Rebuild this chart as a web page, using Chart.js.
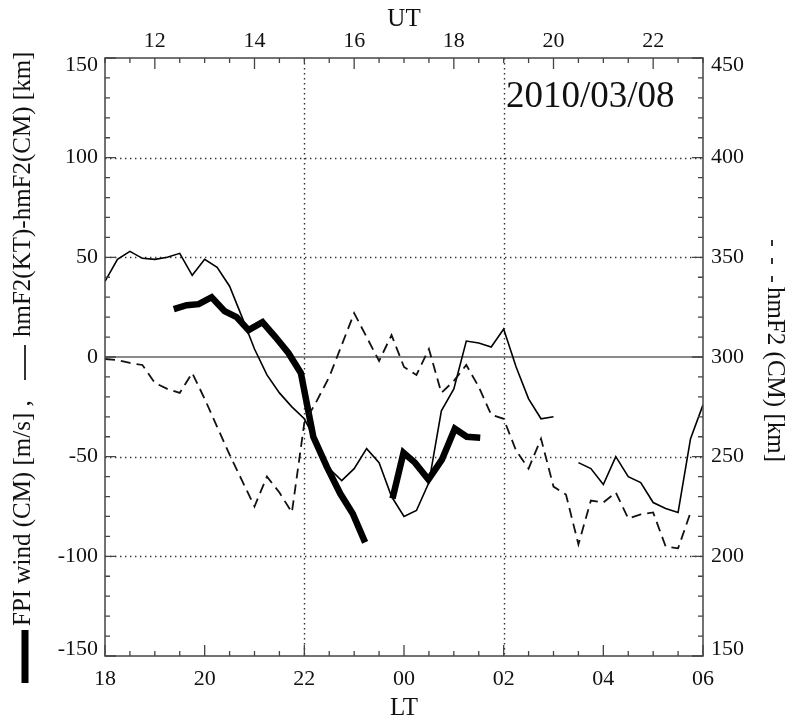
<!DOCTYPE html>
<html>
<head>
<meta charset="utf-8">
<script src="https://cdn.jsdelivr.net/npm/chart.js@4/dist/chart.umd.min.js"></script>
<style>
  html, body { margin: 0; padding: 0; background: #fff; }
  canvas { display: block; }
</style>
</head>
<body>
<canvas id="hmf2Chart" width="789" height="720"></canvas>
<script>
// LT hours (18 = 18 LT, 24 = 00 LT next day, 30 = 06 LT)
const ltQuarter = [18, 18.25, 18.5, 18.75, 19, 19.25, 19.5, 19.75, 20, 20.25, 20.5, 20.75,
  21, 21.25, 21.5, 21.75, 22, 22.25, 22.5, 22.75, 23, 23.25, 23.5, 23.75,
  24, 24.25, 24.5, 24.75, 25, 25.25, 25.5, 25.75, 26, 26.25, 26.5, 26.75,
  27, 27.25, 27.5, 27.75, 28, 28.25, 28.5, 28.75, 29, 29.25, 29.5, 29.75, 30];

// hmF2(KT) - hmF2(CM) [km], thin solid line, left axis
const hmF2Diff = [38, 49, 53, 49.5, 49, 50, 52, 41, 49, 45, 35.5, 20,
  4, -9, -18, -25, -31, -43, -56, -62, -56, -46, -53, -70,
  -80, -77, -63, -27, -16, 8, 7, 5, 14, -5, -21, -31,
  -30, null, -53, -56, -64, -50, -60, -63, -73, -76, -78, -41, -24];

// hmF2 (CM) [km], dashed line, right axis
const hmF2CM = [299, 298.5, 297, 296, 287, 284, 282, 292, 279, 265, 251, 238,
  225, 240, 232, 222, 267, 278, 290, 306, 322, 310, 298, 311,
  295, 291, 304, 282, 288, 296, 285, 271, 269, 253, 244, 259,
  235, 231, 206, 228, 227, 232, 219, 221, 222, 205, 204, 222, null];

// FPI wind (CM) [m/s], thick line, left axis
const fpiLT = [19.38, 19.64, 19.88, 20.14, 20.4, 20.64, 20.88, 21.16, 21.42, 21.68, 21.93,
  22.18, 22.45, 22.72, 22.97, 23.22, 23.5,
  23.77, 23.99, 24.22, 24.49, 24.76, 25.02, 25.26, 25.53];
const fpiWind = [24, 26, 26.5, 30, 23, 20, 13.5, 17.5, 10, 2, -8,
  -40, -55, -68.5, -78.5, -93, null,
  -71, -48, -53, -61.5, -51.5, -36, -40, -40.5];

// axis ticks / labels
const ltTicks = [18, 20, 22, 24, 26, 28, 30];
const utTicks = [12, 14, 16, 18, 20, 22];
const ltGrid = [22, 26];
const windGrid = [-100, -50, 50, 100];
const dateLabel = '2010/03/08';

const SERIF = "'Liberation Serif', 'DejaVu Serif', serif";

function pts(xs, ys) {
  return xs.map((x, i) => ({ x: x, y: ys[i] }));
}

const framePlugin = {
  id: 'frame',
  beforeDraw(chart) {
    const c = chart.ctx;
    c.save();
    c.fillStyle = '#fff';
    c.fillRect(0, 0, chart.width, chart.height);
    c.restore();
  },
  beforeDatasetsDraw(chart) {
    const c = chart.ctx, a = chart.chartArea, s = chart.scales;
    c.save();
    c.strokeStyle = '#333';
    c.lineWidth = 1.4;
    c.setLineDash([1.4, 3.6]);
    ltGrid.forEach(v => {
      const x = Math.round(s.x.getPixelForValue(v)) + 0.5;
      c.beginPath(); c.moveTo(x, a.top); c.lineTo(x, a.bottom); c.stroke();
    });
    windGrid.forEach(v => {
      const y = Math.round(s.y.getPixelForValue(v)) + 0.5;
      c.beginPath(); c.moveTo(a.left, y); c.lineTo(a.right, y); c.stroke();
    });
    c.setLineDash([]);
    c.strokeStyle = '#8a8a8a';
    c.lineWidth = 2;
    const y0 = s.y.getPixelForValue(0);
    c.beginPath(); c.moveTo(a.left, y0); c.lineTo(a.right, y0); c.stroke();
    c.restore();
  },
  afterDraw(chart) {
    const c = chart.ctx, a = chart.chartArea, s = chart.scales;
    c.save();
    c.strokeStyle = '#444';
    c.lineWidth = 1.5;
    c.strokeRect(a.left, a.top, a.right - a.left, a.bottom - a.top);

    // inward tick marks
    c.lineWidth = 1.3;
    c.beginPath();
    for (let i = 0; i <= 24; i++) {
      const v = 18 + i * 0.5, x = s.x.getPixelForValue(v);
      const len = (i % 4 === 0) ? 11 : 5;
      c.moveTo(x, a.bottom); c.lineTo(x, a.bottom - len);
    }
    for (let i = 0; i <= 24; i++) {
      const v = 11 + i * 0.5, x = s.x2.getPixelForValue(v);
      const len = (i % 4 === 2) ? 11 : 5;
      c.moveTo(x, a.top); c.lineTo(x, a.top + len);
    }
    for (let i = 0; i <= 30; i++) {
      const y = s.y.getPixelForValue(-150 + i * 10);
      const len = (i % 5 === 0) ? 11 : 5;
      c.moveTo(a.left, y); c.lineTo(a.left + len, y);
    }
    for (let i = 0; i <= 30; i++) {
      const y = s.y2.getPixelForValue(150 + i * 10);
      const len = (i % 5 === 0) ? 11 : 5;
      c.moveTo(a.right, y); c.lineTo(a.right - len, y);
    }
    c.stroke();

    // titles
    c.fillStyle = '#111';
    c.font = '25px ' + SERIF;
    c.textAlign = 'center';
    c.textBaseline = 'alphabetic';
    const cx = (a.left + a.right) / 2;
    c.fillText('UT', cx, 26);
    c.fillText('LT', cx, 715);

    c.textAlign = 'left';
    c.font = '37px ' + SERIF;
    c.fillText(dateLabel, 506, 107);

    // left title: thick bar + text, thin line + text (reads bottom to top)
    c.save();
    c.translate(25, 683);
    c.rotate(-Math.PI / 2);
    c.fillStyle = '#000';
    c.fillRect(0, -3.5, 53, 7);
    c.fillStyle = '#111';
    c.font = '25px ' + SERIF;
    c.textBaseline = 'middle';
    c.fillText('FPI wind (CM) [m/s] ,', 57, -2);
    c.strokeStyle = '#000';
    c.lineWidth = 1.6;
    c.beginPath(); c.moveTo(303, 0); c.lineTo(338, 0); c.stroke();
    c.fillText('hmF2(KT)-hmF2(CM) [km]', 346, -2);
    c.restore();

    // right title: dashes + text (reads top to bottom)
    c.save();
    c.translate(772, 240);
    c.rotate(Math.PI / 2);
    c.strokeStyle = '#000';
    c.lineWidth = 1.6;
    c.setLineDash([6, 12]);
    c.beginPath(); c.moveTo(0, 0); c.lineTo(42, 0); c.stroke();
    c.setLineDash([]);
    c.fillStyle = '#111';
    c.font = '25px ' + SERIF;
    c.textBaseline = 'middle';
    c.fillText('hmF2 (CM) [km]', 47, -3);
    c.restore();

    c.restore();
  }
};

const tickFont = { family: SERIF, size: 22, lineHeight: 0.64 };

new Chart(document.getElementById('hmf2Chart'), {
  type: 'line',
  data: {
    datasets: [
      {
        label: 'hmF2 (CM)',
        data: pts(ltQuarter, hmF2CM),
        xAxisID: 'x', yAxisID: 'y2',
        borderColor: '#111', borderWidth: 1.8, borderDash: [10, 6],
        pointRadius: 0, tension: 0, spanGaps: false, fill: false
      },
      {
        label: 'hmF2(KT)-hmF2(CM)',
        data: pts(ltQuarter, hmF2Diff),
        xAxisID: 'x', yAxisID: 'y',
        borderColor: '#000', borderWidth: 1.6,
        pointRadius: 0, tension: 0, spanGaps: false, fill: false
      },
      {
        label: 'FPI wind (CM)',
        data: pts(fpiLT, fpiWind),
        xAxisID: 'x', yAxisID: 'y',
        borderColor: '#000', borderWidth: 6.5, borderJoinStyle: 'miter',
        pointRadius: 0, tension: 0, spanGaps: false, fill: false
      }
    ]
  },
  options: {
    responsive: false,
    animation: false,
    events: [],
    layout: { padding: 0 },
    plugins: { legend: { display: false }, tooltip: { enabled: false } },
    scales: {
      x: {
        type: 'linear', position: 'bottom', min: 18, max: 30,
        afterBuildTicks: s => { s.ticks = ltTicks.map(v => ({ value: v })); },
        afterFit: s => { s.height = 64; },
        grid: { display: false, drawTicks: false },
        border: { display: false },
        ticks: {
          padding: 10, maxRotation: 0, autoSkip: false, color: '#111',
          font: { family: SERIF, size: 22 },
          callback: v => String(v % 24).padStart(2, '0')
        }
      },
      x2: {
        type: 'linear', position: 'top', min: 11, max: 23,
        afterBuildTicks: s => { s.ticks = utTicks.map(v => ({ value: v })); },
        afterFit: s => { s.height = 58; },
        grid: { display: false, drawTicks: false },
        border: { display: false },
        ticks: {
          padding: 4, maxRotation: 0, autoSkip: false, color: '#111',
          font: { family: SERIF, size: 22 },
          callback: v => String(v)
        }
      },
      y: {
        type: 'linear', position: 'left', min: -150, max: 150,
        afterFit: s => { s.width = 105; },
        grid: { display: false, drawTicks: false },
        border: { display: false },
        ticks: {
          stepSize: 50, padding: 7, color: '#111', font: tickFont,
          callback: v => v === 150 ? ['', '150'] : (v === -150 ? ['-150', ''] : String(v))
        }
      },
      y2: {
        type: 'linear', position: 'right', min: 150, max: 450,
        afterFit: s => { s.width = 86; },
        grid: { display: false, drawTicks: false },
        border: { display: false },
        ticks: {
          stepSize: 50, padding: 8, color: '#111', font: tickFont,
          callback: v => v === 450 ? ['', '450'] : (v === 150 ? ['150', ''] : String(v))
        }
      }
    }
  },
  plugins: [framePlugin]
});
</script>
</body>
</html>
